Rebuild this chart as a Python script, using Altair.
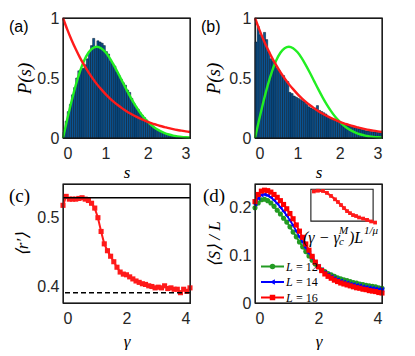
import altair as alt
import pandas as pd

# ---------------- data ----------------
s_left = [round(i * 0.05, 2) for i in range(60)]  # histogram bin left edges
bin_w = 0.05
hist_a = [0.05, 0.14, 0.22, 0.28, 0.36, 0.42, 0.50, 0.56, 0.57, 0.58,
          0.61, 0.66, 0.72, 0.77, 0.83, 0.76, 0.81, 0.80, 0.79, 0.77,
          0.72, 0.70, 0.64, 0.62, 0.60, 0.55, 0.52, 0.49, 0.46, 0.44,
          0.40, 0.38, 0.33, 0.29, 0.26, 0.24, 0.21, 0.19, 0.17, 0.15,
          0.13, 0.11, 0.10, 0.08, 0.07, 0.06, 0.05, 0.045, 0.035, 0.03,
          0.025, 0.02, 0.015, 0.012, 0.008, 0.006, 0.004, 0.003, 0.002, 0.001]
hist_b = [0.80, 0.93, 0.86, 0.84, 0.88, 0.82, 0.72, 0.66, 0.64, 0.60,
          0.58, 0.56, 0.53, 0.52, 0.48, 0.47, 0.38, 0.37, 0.35, 0.34,
          0.33, 0.32, 0.31, 0.30, 0.28, 0.26, 0.25, 0.24, 0.25, 0.27,
          0.23, 0.22, 0.21, 0.20, 0.18, 0.17, 0.16, 0.15, 0.14, 0.135,
          0.13, 0.12, 0.115, 0.11, 0.10, 0.095, 0.09, 0.085, 0.08, 0.075,
          0.07, 0.065, 0.06, 0.058, 0.055, 0.052, 0.05, 0.048, 0.045, 0.044]

s_curve = [round(i * 0.1, 1) for i in range(31)]
wigner = [0.0, 0.156, 0.304, 0.439, 0.554, 0.645, 0.710, 0.748, 0.760, 0.748,
          0.716, 0.668, 0.608, 0.542, 0.472, 0.403, 0.337, 0.276, 0.222, 0.175,
          0.136, 0.103, 0.077, 0.057, 0.041, 0.029, 0.020, 0.014, 0.009, 0.006, 0.004]
poisson = [1.0, 0.905, 0.819, 0.741, 0.670, 0.607, 0.549, 0.497, 0.449, 0.407,
           0.368, 0.333, 0.301, 0.273, 0.247, 0.223, 0.202, 0.183, 0.165, 0.150,
           0.135, 0.122, 0.111, 0.100, 0.091, 0.082, 0.074, 0.067, 0.061, 0.055, 0.050]

gamma = [round(i * 0.1, 1) for i in range(41)]
r_mean = [0.518, 0.531, 0.527, 0.527, 0.527, 0.528, 0.529, 0.527, 0.525, 0.521,
          0.514, 0.500, 0.480, 0.462, 0.452, 0.444, 0.436, 0.428, 0.421, 0.418,
          0.417, 0.414, 0.411, 0.408, 0.406, 0.404, 0.403, 0.401, 0.400, 0.398,
          0.399, 0.398, 0.401, 0.397, 0.398, 0.396, 0.396, 0.391, 0.396, 0.393, 0.398]
r_goe = 0.529
r_poi = 0.391

S_L12 = [0.200, 0.210, 0.217, 0.218, 0.215, 0.210, 0.203, 0.195, 0.187, 0.178,
         0.170, 0.160, 0.149, 0.139, 0.128, 0.118, 0.108, 0.099, 0.090, 0.082,
         0.076, 0.070, 0.066, 0.062, 0.059, 0.056, 0.053, 0.051, 0.049, 0.047,
         0.045, 0.043, 0.042, 0.040, 0.039, 0.037, 0.036, 0.035, 0.034, 0.032, 0.031]
S_L14 = [0.208, 0.220, 0.227, 0.228, 0.226, 0.222, 0.216, 0.209, 0.201, 0.193,
         0.184, 0.174, 0.163, 0.151, 0.139, 0.128, 0.116, 0.105, 0.095, 0.085,
         0.077, 0.070, 0.064, 0.059, 0.055, 0.052, 0.049, 0.046, 0.044, 0.042,
         0.040, 0.039, 0.037, 0.036, 0.034, 0.033, 0.032, 0.031, 0.030, 0.029, 0.028]
S_L16 = [0.213, 0.228, 0.235, 0.237, 0.236, 0.233, 0.228, 0.222, 0.215, 0.207,
         0.198, 0.188, 0.177, 0.164, 0.151, 0.138, 0.124, 0.111, 0.098, 0.086,
         0.076, 0.068, 0.061, 0.056, 0.052, 0.048, 0.045, 0.042, 0.040, 0.038,
         0.036, 0.034, 0.032, 0.031, 0.029, 0.028, 0.026, 0.025, 0.024, 0.022, 0.021]
L_names = ["L = 12", "L = 14", "L = 16"]
L_values = ["12", "14", "16"]

# inset (scaling collapse), its own units
inset_x = [-1.52, -0.87, -0.06, 0.58, 1.23, 1.87, 2.35, 2.84, 3.32, 3.81,
           4.29, 4.77, 5.26, 5.74, 6.39, 7.03, 7.68, 8.32]
inset_y = [0.236, 0.2405, 0.239, 0.227, 0.208, 0.187, 0.170, 0.151, 0.132, 0.113,
           0.100, 0.088, 0.082, 0.073, 0.066, 0.058, 0.048, 0.041]
inset_xdom = [-2, 8]
inset_ydom = [0.05, 0.25]

# ---------------- style ----------------
SANS = "Liberation Sans"
SERIF = "Liberation Serif"
TXT = "#262626"
GREEN = "#22ee22"
RED = "#ff1a1a"
W, H = 127, 120
W2, H2 = 127, 119


def axis(values, title, is_x, tpad, tsize=17):
    return alt.Axis(values=values, labelExpr="'' + datum.value", title=title,
                    domain=False, ticks=False, grid=False,
                    labelFont=SANS, labelFontSize=16, labelColor=TXT,
                    labelPadding=7 if is_x else 4,
                    titleFont=SERIF, titleFontStyle="italic", titleFontWeight="normal",
                    titleFontSize=tsize, titleColor="black", titlePadding=tpad)


def label(text, x, y, font, size, italic=False, color="black"):
    return alt.Chart(pd.DataFrame({"t": [text]})).mark_text(
        align="left", baseline="middle", font=font, fontSize=size, color=color,
        fontStyle="italic" if italic else "normal"
    ).encode(text="t:N", x=alt.value(x), y=alt.value(y))


def frame(xdom, ydom, xs, ys):
    df = pd.DataFrame({"x0": [xdom[0]], "x1": [xdom[1]], "y0": [ydom[0]], "y1": [ydom[1]]})
    return alt.Chart(df).mark_rect(fill="white", fillOpacity=0, stroke="#1a1a1a",
                                   strokeWidth=1.1).encode(
        x=alt.X("x0:Q", scale=xs), x2="x1:Q", y=alt.Y("y0:Q", scale=ys), y2="y1:Q")


def hist_panel(vals, lab, ytpad):
    xs = alt.Scale(domain=[0, 3], nice=False, zero=False)
    ys = alt.Scale(domain=[0, 1], nice=False)
    dh = pd.DataFrame({"s0": s_left, "s1": [round(v + bin_w, 2) for v in s_left], "p": vals})
    dc = pd.DataFrame({"s": s_curve, "w": wigner, "e": poisson})
    bars = alt.Chart(dh).mark_rect(fill="#0a5595", stroke="#021020", strokeWidth=0.5).encode(
        x=alt.X("s0:Q", scale=xs, axis=axis([0, 1, 2, 3], "s", True, 3)),
        x2="s1:Q",
        y=alt.Y("p:Q", scale=ys, axis=axis([0, 0.5, 1], "P(s)", False, ytpad, 19)),
    )
    gw = alt.Chart(dc).mark_line(color=GREEN, strokeWidth=2.4, interpolate="monotone").encode(
        x=alt.X("s:Q", scale=xs), y=alt.Y("w:Q", scale=ys))
    rp = alt.Chart(dc).mark_line(color=RED, strokeWidth=2.4, interpolate="monotone").encode(
        x=alt.X("s:Q", scale=xs), y=alt.Y("e:Q", scale=ys))
    return alt.layer(bars, gw, rp, frame([0, 3], [0, 1], xs, ys),
                     label(lab, -54, 9, SANS, 16)).properties(width=W, height=H)


pa = hist_panel(hist_a, "(a)", 2)
pb = hist_panel(hist_b, "(b)", 5)

# ---- panel (c)
xs_c = alt.Scale(domain=[0, 4], nice=False, zero=False)
ys_c = alt.Scale(domain=[0.376, 0.549], nice=False, zero=False)
dfc = pd.DataFrame({"g": gamma, "r": r_mean})
c_line = alt.Chart(dfc).mark_line(color=RED, strokeWidth=2).encode(
    x=alt.X("g:Q", scale=xs_c, axis=axis([0, 2, 4], "γ", True, 7)),
    y=alt.Y("r:Q", scale=ys_c, axis=axis([0.4, 0.5], "⟨r′⟩", False, 5)),
)
c_pts = alt.Chart(dfc).mark_square(color=RED, size=26, opacity=1).encode(
    x=alt.X("g:Q", scale=xs_c), y=alt.Y("r:Q", scale=ys_c))
c_goe = alt.Chart(pd.DataFrame({"v": [r_goe]})).mark_rule(color="black", strokeWidth=1.6).encode(
    y=alt.Y("v:Q", scale=ys_c))
c_poi = alt.Chart(pd.DataFrame({"v": [r_poi]})).mark_rule(
    color="black", strokeWidth=1.4, strokeDash=[5, 3]).encode(y=alt.Y("v:Q", scale=ys_c))
pc = alt.layer(c_line, c_pts, c_goe, c_poi, frame([0, 4], [0.376, 0.549], xs_c, ys_c),
               label("(c)", -54, 12, SERIF, 19)).properties(width=W2, height=H2)

# ---- panel (d)
xs_d = alt.Scale(domain=[0, 4], nice=False, zero=False)
ys_d = alt.Scale(domain=[0, 0.25], nice=False)
cols = ["#239b23", "#0000ff", "#ff0000"]
shapes = ["circle", "triangle-left", "square"]
col_scale = alt.Scale(domain=L_names, range=cols)
rows = []
for name, ser in zip(L_names, [S_L12, S_L14, S_L16]):
    for g, v in zip(gamma, ser):
        rows.append({"g": g, "S": v, "L": name})
dfd = pd.DataFrame(rows)

d_layers = []
first = True
for name, shp in zip(L_names, shapes):
    base = alt.Chart(dfd).transform_filter(alt.datum.L == name)
    if first:
        X = alt.X("g:Q", scale=xs_d, axis=axis([0, 2, 4], "γ", True, 7))
        Y = alt.Y("S:Q", scale=ys_d, axis=axis([0, 0.1, 0.2], "⟨S⟩ / L", False, 5))
    else:
        X = alt.X("g:Q", scale=xs_d)
        Y = alt.Y("S:Q", scale=ys_d)
    first = False
    d_layers.append(base.mark_line(strokeWidth=1.8).encode(
        x=X, y=Y, color=alt.Color("L:N", scale=col_scale, legend=None)))
    d_layers.append(base.mark_point(shape=shp, filled=True, size=26, opacity=1).encode(
        x=alt.X("g:Q", scale=xs_d), y=alt.Y("S:Q", scale=ys_d),
        color=alt.Color("L:N", scale=col_scale, legend=None)))

# legend (drawn in the lower-left corner of panel d)
leg_layers = []
for i, (val, col, shp) in enumerate(zip(L_values, cols, shapes)):
    ly = 82.5 + 15.5 * i
    ldf = pd.DataFrame({"t": ["= " + val]})
    leg_layers.append(alt.Chart(ldf).mark_rule(color=col, strokeWidth=2).encode(
        x=alt.value(6), x2=alt.value(29), y=alt.value(ly)))
    leg_layers.append(alt.Chart(ldf).mark_point(shape=shp, filled=True, size=30, color=col,
                                                opacity=1).encode(
        x=alt.value(17.5), y=alt.value(ly)))
    leg_layers.append(label("L", 31, ly, SERIF, 12, True))
    leg_layers.append(alt.Chart(ldf).mark_text(
        align="left", baseline="middle", font=SERIF, fontSize=12, color="black").encode(
        text="t:N", x=alt.value(41), y=alt.value(ly)))

# inset mapped into the (d) axes: box spans gamma 1.76..3.72, <S>/L 0.172..0.239
box_g = [1.76, 3.72]
box_S = [0.172, 0.239]
kx = (box_g[1] - box_g[0]) / (inset_xdom[1] - inset_xdom[0])
ky = (box_S[1] - box_S[0]) / (inset_ydom[1] - inset_ydom[0])
dfi = pd.DataFrame({"x": inset_x, "y": inset_y})
ins = alt.Chart(dfi).transform_calculate(
    gx=f"{box_g[0]} + (datum.x - ({inset_xdom[0]})) * {kx}",
    gy=f"{box_S[0]} + (datum.y - ({inset_ydom[0]})) * {ky}",
)
box = frame(box_g, box_S, xs_d, ys_d)
in_line = ins.mark_line(color=RED, strokeWidth=2.2).encode(
    x=alt.X("gx:Q", scale=xs_d), y=alt.Y("gy:Q", scale=ys_d))
in_pts = ins.mark_square(color=RED, size=14, opacity=1).encode(
    x=alt.X("gx:Q", scale=xs_d), y=alt.Y("gy:Q", scale=ys_d))

pd_ = alt.layer(*d_layers, box, in_line, in_pts, frame([0, 4], [0, 0.25], xs_d, ys_d),
                *leg_layers,
                label("(d)", -52, 12, SERIF, 19),
                label("(γ − γ", 48, 54, SERIF, 16, True), label("c", 84, 58, SERIF, 11, True),
                label("M", 84, 47, SERIF, 11, True), label(")L", 94, 54, SERIF, 16, True),
                label("1/μ", 109, 47, SERIF, 11, True)).properties(width=W2, height=H2)

chart = alt.concat(pa, pb, pc, pd_, columns=2, spacing={"row": 46, "column": 65},
                   bounds="flush").properties(
    padding={"left": 0, "top": 1, "right": 0, "bottom": 0}
).configure_view(stroke="#1a1a1a", strokeWidth=1.1)

chart.save("out.html", embed_options={"renderer": "svg", "actions": False})
